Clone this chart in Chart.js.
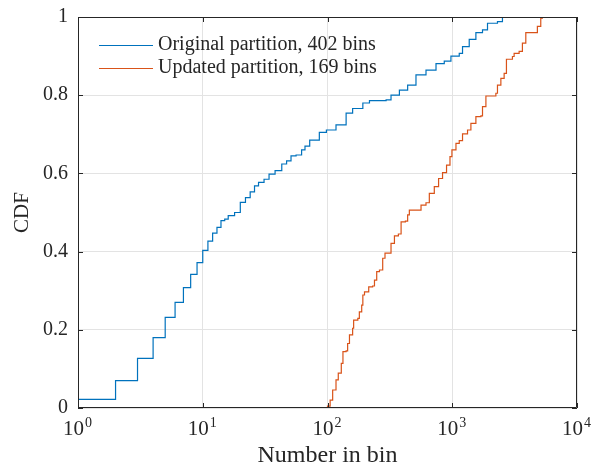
<!DOCTYPE html>
<html>
<head>
<meta charset="utf-8">
<script src="https://cdn.jsdelivr.net/npm/chart.js@4/dist/chart.umd.min.js"></script>
<style>
  html, body { margin: 0; padding: 0; background: #fff; }
  #wrap { width: 592px; height: 466px; }
</style>
</head>
<body>
<div id="wrap"><canvas id="cdfChart" width="592" height="466"></canvas></div>
<script>
// data (step CDFs)
const seriesNames = ['Original partition, 402 bins', 'Updated partition, 169 bins'];

const origX = [1, 1, 2, 3, 4, 5, 6, 7, 8, 9, 10, 11, 12, 13, 14, 15, 16, 18, 20, 22, 24,
  26, 28, 31, 34, 38, 43, 47, 51, 56, 62, 66, 72, 86, 98, 117, 141, 159, 192, 217, 295,
  323, 377, 439, 512, 616, 741, 863, 976, 1138, 1209, 1368, 1547, 1748, 1917, 2304, 2526];
const origY = [0, 0.022, 0.07, 0.127, 0.18, 0.232, 0.27, 0.308, 0.342, 0.372, 0.403,
  0.427, 0.447, 0.462, 0.479, 0.483, 0.492, 0.5, 0.526, 0.538, 0.553,
  0.568, 0.577, 0.585, 0.598, 0.607, 0.624, 0.632, 0.645, 0.647, 0.66,
  0.67, 0.685, 0.705, 0.711, 0.724, 0.754, 0.766, 0.78, 0.786, 0.788,
  0.80, 0.813, 0.826, 0.852, 0.864, 0.881, 0.887, 0.90, 0.907, 0.924,
  0.943, 0.96, 0.967, 0.984, 0.988, 1.0];

const updX = [100, 100, 105, 110, 117, 122, 129, 133, 141, 145, 150, 159, 162, 175, 180,
  188, 192, 198, 214, 230, 238, 248, 261, 277, 289, 323, 344, 370, 389, 421, 439, 453,
  562, 616, 655, 718, 777, 836, 900, 959, 994, 1071, 1138, 1209, 1326, 1411, 1547, 1697,
  1748, 1861, 2237, 2304, 2453, 2606, 2719, 3037, 3133, 3436, 3651, 3887, 4813, 5123, 5277];
const updY = [0, 0.005, 0.02, 0.046, 0.072, 0.089, 0.114, 0.144, 0.146, 0.165,
  0.187, 0.204, 0.225, 0.229, 0.246, 0.263, 0.289, 0.297, 0.31, 0.312,
  0.327, 0.349, 0.353, 0.383, 0.396, 0.421, 0.44, 0.445, 0.476, 0.478,
  0.494, 0.506, 0.519, 0.525, 0.549, 0.566, 0.587, 0.602, 0.621, 0.643,
  0.66, 0.677, 0.684, 0.701, 0.711, 0.728, 0.745, 0.747, 0.771, 0.798,
  0.805, 0.826, 0.843, 0.856, 0.892, 0.899, 0.907, 0.912, 0.933, 0.96,
  0.976, 0.997, 1.0];

const xTicks = [1, 10, 100, 1000, 10000];
const xTickExps = ['0', '1', '2', '3', '4'];
const yTicks = [0, 0.2, 0.4, 0.6, 0.8, 1];

const colors = ['#0072BD', '#D95319'];
const axisColor = '#262626';
const serif = "'Liberation Serif', 'DejaVu Serif', serif";

function toPoints(xs, ys) {
  return xs.map((x, i) => ({ x: x, y: ys[i] }));
}

// box, inward ticks, 10^n labels and the legend inside the axes
const matlabAxes = {
  id: 'matlabAxes',
  afterDraw(chart) {
    const ctx = chart.ctx;
    const a = chart.chartArea;
    const xs = chart.scales.x, ys = chart.scales.y;
    ctx.save();
    ctx.strokeStyle = axisColor;
    ctx.lineWidth = 1;
    ctx.beginPath();
    ctx.rect(a.left + 0.5, a.top + 0.5, a.right - a.left - 1, a.bottom - a.top - 1);
    ctx.stroke();
    ctx.beginPath();
    xTicks.forEach(v => {
      const px = Math.round(xs.getPixelForValue(v)) + 0.5;
      ctx.moveTo(px, a.bottom); ctx.lineTo(px, a.bottom - 5);
      ctx.moveTo(px, a.top); ctx.lineTo(px, a.top + 5);
    });
    yTicks.forEach(v => {
      const py = Math.round(ys.getPixelForValue(v)) + 0.5;
      ctx.moveTo(a.left, py); ctx.lineTo(a.left + 5, py);
      ctx.moveTo(a.right, py); ctx.lineTo(a.right - 5, py);
    });
    ctx.stroke();

    // x tick labels as 10 with a raised exponent
    ctx.fillStyle = axisColor;
    ctx.textBaseline = 'alphabetic';
    ctx.textAlign = 'left';
    xTicks.forEach((v, i) => {
      const px = xs.getPixelForValue(v);
      ctx.font = '21px ' + serif;
      const wb = ctx.measureText('10').width;
      ctx.font = '14px ' + serif;
      const we = ctx.measureText(xTickExps[i]).width;
      const x0 = px - (wb + we) / 2 - 1;
      ctx.font = '21px ' + serif;
      ctx.fillText('10', x0, 435);
      ctx.font = '14px ' + serif;
      ctx.fillText(xTickExps[i], x0 + wb + 1, 427);
    });

    // legend
    ctx.font = '20px ' + serif;
    ctx.textBaseline = 'middle';
    chart.data.datasets.forEach((ds, i) => {
      const y = 45 + i * 23;
      ctx.strokeStyle = ds.borderColor;
      ctx.lineWidth = 1.2;
      ctx.beginPath();
      ctx.moveTo(99, y + 0.5); ctx.lineTo(153, y + 0.5);
      ctx.stroke();
      ctx.fillStyle = axisColor;
      ctx.fillText(ds.label, 158, y);
    });
    ctx.restore();
  }
};

const cdfConfig = {
  type: 'line',
  data: {
    datasets: [
      { label: seriesNames[0], data: toPoints(origX, origY), borderColor: colors[0] },
      { label: seriesNames[1], data: toPoints(updX, updY), borderColor: colors[1] }
    ]
  },
  options: {
    responsive: false,
    animation: false,
    layout: { padding: { left: 0, right: 15, top: 17, bottom: 0 } },
    elements: {
      line: { borderWidth: 1.2, stepped: true, tension: 0, fill: false },
      point: { radius: 0 }
    },
    plugins: { legend: { display: false }, tooltip: { enabled: false } },
    scales: {
      x: {
        type: 'logarithmic',
        min: 1, max: 10000,
        afterBuildTicks: s => { s.ticks = xTicks.map(v => ({ value: v })); },
        afterFit: s => { s.height = 58; s.paddingLeft = 0; s.paddingRight = 0; },
        border: { display: false },
        grid: { color: '#e3e3e3', drawTicks: false },
        ticks: { display: false },
        title: {
          display: true, text: 'Number in bin', color: axisColor,
          font: { family: serif, size: 24 }, padding: { top: 0, bottom: -4 }
        }
      },
      y: {
        min: 0, max: 1,
        afterBuildTicks: s => { s.ticks = yTicks.map(v => ({ value: v })); },
        afterFit: s => { s.width = 78; s.paddingTop = 0; s.paddingBottom = 0; },
        border: { display: false },
        grid: { color: '#e3e3e3', drawTicks: false },
        ticks: {
          color: axisColor, padding: 10,
          font: { family: serif, size: 20 },
          callback: (v) => String(v)
        },
        title: {
          display: true, text: 'CDF', color: axisColor,
          font: { family: serif, size: 21 }, padding: { top: 10, bottom: 0 }
        }
      }
    }
  },
  plugins: [matlabAxes]
};

const cdfChart = new Chart(document.getElementById('cdfChart'), cdfConfig);
</script>
</body>
</html>
